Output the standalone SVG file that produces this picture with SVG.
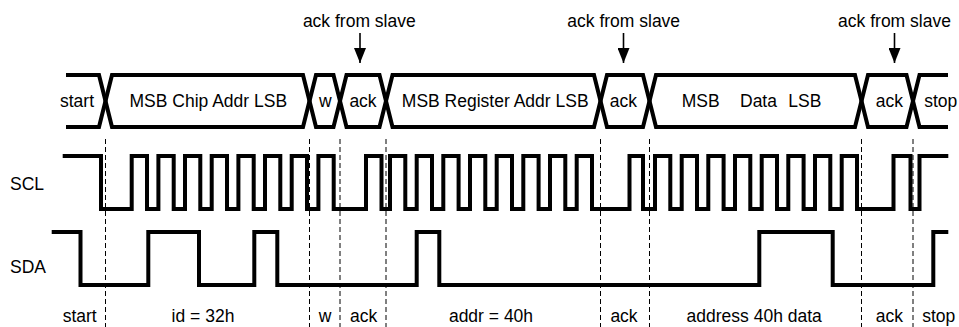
<svg xmlns="http://www.w3.org/2000/svg" width="959" height="327" viewBox="0 0 959 327">
<style>
text{font-family:"Liberation Sans",Arial,sans-serif;font-size:17.5px;fill:#000}
.c{text-anchor:middle}
.w{fill:none;stroke:#000;stroke-width:4;stroke-linejoin:miter;stroke-linecap:butt}
.d{stroke:#000;stroke-width:1;stroke-dasharray:5,3}
.a{stroke:#000;stroke-width:1.6}
</style>
<defs>
<marker id="ah" viewBox="0 0 15 12" refX="15" refY="6" markerWidth="15" markerHeight="12" markerUnits="userSpaceOnUse" orient="auto">
<path d="M0,0 L15,6 L0,12 Z" fill="#000"/>
</marker>
</defs>
<rect width="959" height="327" fill="#fff"/>

<g id="guides">
<line class="d" x1="105.5" y1="139" x2="105.5" y2="327"/>
<line class="d" x1="309.5" y1="139" x2="309.5" y2="327"/>
<line class="d" x1="340" y1="139" x2="340" y2="327"/>
<line class="d" x1="386" y1="139" x2="386" y2="327"/>
<line class="d" x1="600.5" y1="139" x2="600.5" y2="327"/>
<line class="d" x1="649.5" y1="139" x2="649.5" y2="327"/>
<line class="d" x1="861.5" y1="139" x2="861.5" y2="327"/>
<line class="d" x1="913" y1="139" x2="913" y2="327"/>
</g>

<g id="bus">
<path class="w" d="M66,75 H99 L112,127 H303 L316,75 H333.5 L346.5,127 H379.5 L392.5,75 H594 L607,127 H643 L656,75 H855 L868,127 H906.5 L919.5,75 H948"/>
<path class="w" d="M66,127 H99 L112,75 H303 L316,127 H333.5 L346.5,75 H379.5 L392.5,127 H594 L607,75 H643 L656,127 H855 L868,75 H906.5 L919.5,127 H948"/>
<text class="c" x="77" y="107">start</text>
<text class="c" x="208.3" y="107">MSB Chip Addr LSB</text>
<text class="c" x="325.2" y="107">w</text>
<text class="c" x="363" y="107">ack</text>
<text class="c" x="495.2" y="107">MSB Register Addr LSB</text>
<text class="c" x="623.3" y="107">ack</text>
<text y="107"><tspan x="681.7">MSB</tspan> <tspan x="740">Data</tspan> <tspan x="788.3">LSB</tspan></text>
<text class="c" x="889.3" y="107">ack</text>
<text class="c" x="940.8" y="107">stop</text>
</g>

<g id="annotations">
<text class="c" x="359.3" y="26.5">ack from slave</text>
<line class="a" x1="360" y1="33" x2="360" y2="63" marker-end="url(#ah)"/>
<text class="c" x="623.7" y="26.5">ack from slave</text>
<line class="a" x1="623.5" y1="33" x2="623.5" y2="63" marker-end="url(#ah)"/>
<text class="c" x="894.5" y="26.5">ack from slave</text>
<line class="a" x1="894.5" y1="33" x2="894.5" y2="63" marker-end="url(#ah)"/>
</g>

<g id="scl">
<text x="10" y="190">SCL</text>
<path class="w" d="M62.7,156 H101 V209 H131.7 V156 H147 V209 H158.4 V156 H173.7 V209 H185 V156 H200.3 V209 H211.7 V156 H227 V209 H238.4 V156 H253.7 V209 H265 V156 H280.3 V209 H291.7 V156 H307 V209 H318.4 V156 H333.7 V209 H366 V156 H381.5 V209 H390 V156 H405.3 V209 H416.7 V156 H432 V209 H443.3 V156 H458.6 V209 H470 V156 H485.3 V209 H496.7 V156 H512 V209 H523.3 V156 H538.6 V209 H550 V156 H565.3 V209 H576.7 V156 H592 V209 H629.5 V156 H643 V209 H655 V156 H670.3 V209 H681.7 V156 H697 V209 H708.3 V156 H723.6 V209 H735 V156 H750.3 V209 H761.7 V156 H777 V209 H788.3 V156 H803.6 V209 H815 V156 H830.3 V209 H841.7 V156 H857 V209 H893.5 V156 H910.5 V209 H919.5 V156 H948.3"/>
</g>

<g id="sda">
<text x="10" y="272.5">SDA</text>
<path class="w" d="M51.7,232 H80.5 V285 H148.3 V232 H199 V285 H254.3 V232 H277.3 V285 H416.7 V232 H439.3 V285 H759.3 V232 H832.7 V285 H933.3 V232 H948.3"/>
</g>

<g id="phases">
<text class="c" x="79.7" y="321.5">start</text>
<text class="c" x="203" y="321.5">id = 32h</text>
<text class="c" x="325" y="321.5">w</text>
<text class="c" x="363.7" y="321.5">ack</text>
<text class="c" x="491" y="321.5">addr = 40h</text>
<text class="c" x="624" y="321.5">ack</text>
<text class="c" x="754.2" y="321.5">address 40h data</text>
<text class="c" x="889.3" y="321.5">ack</text>
<text class="c" x="938.8" y="321.5">stop</text>
</g>
</svg>
